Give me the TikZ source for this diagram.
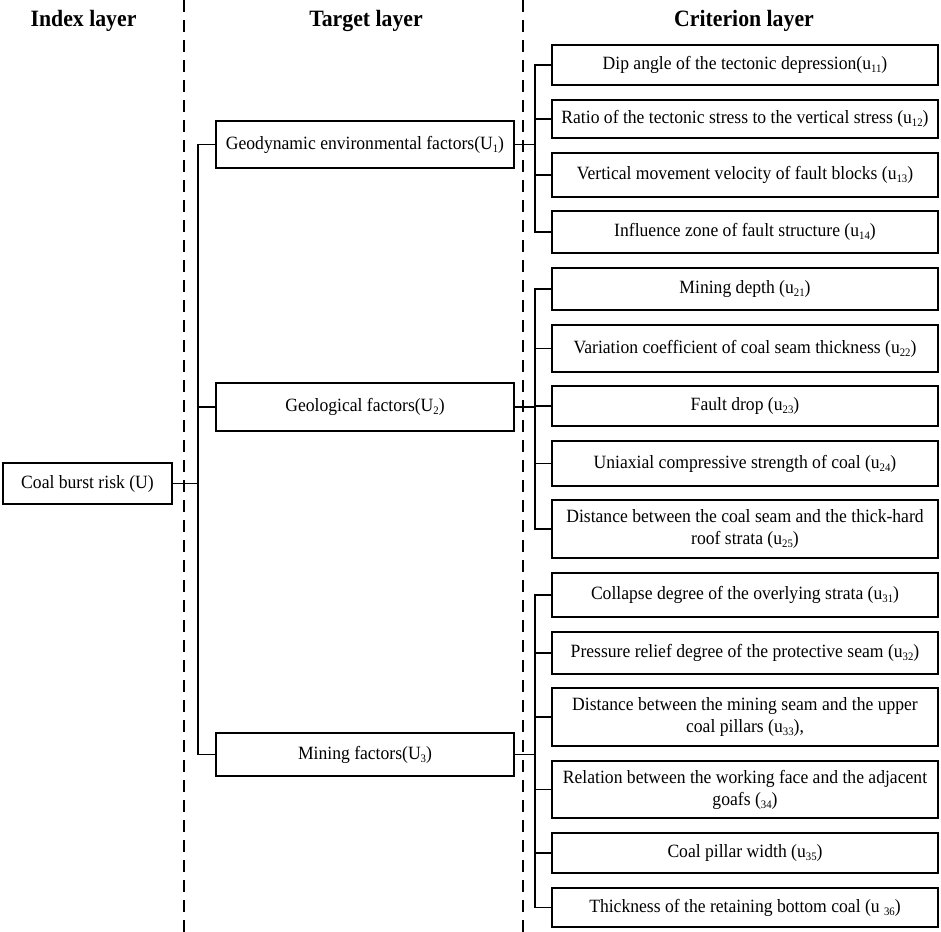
\documentclass[tikz,border=0pt]{standalone}
\usepackage{fontspec}
\setmainfont{Liberation Serif}[FakeStretch=0.94]
\newfontfamily\headfont{Liberation Serif}[FakeStretch=0.93]
\newcommand\lowsub[1]{\raisebox{-0.35ex}{\fontsize{11.5}{12}\selectfont #1}}
\begin{document}
\begin{tikzpicture}[x=1bp,y=-1bp,
  box/.style={draw, line width=1.7bp, inner sep=0pt, align=center,
    font=\fontsize{18.8}{22}\selectfont},
  rbox/.style={box, minimum width=386bp},
  mbox/.style={box, minimum width=298bp},
  head/.style={font=\headfont\fontsize{23.5}{26}\selectfont\bfseries, anchor=base, inner sep=0pt},
  conn/.style={line width=1.5bp},
  sep/.style={line width=1.4bp, dash pattern=on 12bp off 8bp}]
\useasboundingbox (0,0) rectangle (941,932);
% headers
\node[head] (h1) at (83.5,26) {Index layer};
\node[head] (h2) at (366,26) {Target layer};
\node[head] (h3) at (744,26) {Criterion layer};
% separators
\draw[sep] (184,0) -- (184,932);
\draw[sep] (523,0) -- (523,932);
% index
\node[box, minimum width=169bp, minimum height=41bp] (c) at (87.5,483.5) {Coal burst risk (U)};
% target
\node[mbox, minimum height=47bp] (m1) at (365,144.5) {Geodynamic environmental factors(U\lowsub{1})};
\node[mbox, minimum height=48bp] (m2) at (365,407) {Geological factors(U\lowsub{2})};
\node[mbox, minimum height=43bp] (m3) at (365,754.5) {Mining factors(U\lowsub{3})};
% criteria
\node[rbox, minimum height=40bp] (r11) at (745,65) {Dip angle of the tectonic depression(u\lowsub{11})};
\node[rbox, minimum height=38bp] (r12) at (745,119) {Ratio of the tectonic stress to the vertical stress (u\lowsub{12})};
\node[rbox, minimum height=44bp] (r13) at (745,175) {Vertical movement velocity of fault blocks (u\lowsub{13})};
\node[rbox, minimum height=42bp] (r14) at (745,232) {Influence zone of fault structure (u\lowsub{14})};
\node[rbox, minimum height=42bp] (r21) at (745,289) {Mining depth (u\lowsub{21})};
\node[rbox, minimum height=47bp] (r22) at (745,348.5) {Variation coefficient of coal seam thickness (u\lowsub{22})};
\node[rbox, minimum height=40bp] (r23) at (745,406) {Fault drop (u\lowsub{23})};
\node[rbox, minimum height=45bp] (r24) at (745,463.5) {Uniaxial compressive strength of coal (u\lowsub{24})};
\node[rbox, minimum height=58bp] (r25) at (745,529) {Distance between the coal seam and the thick-hard\\roof strata (u\lowsub{25})};
\node[rbox, minimum height=44bp] (r31) at (745,595) {Collapse degree of the overlying strata (u\lowsub{31})};
\node[rbox, minimum height=42bp] (r32) at (745,653) {Pressure relief degree of the protective seam (u\lowsub{32})};
\node[rbox, minimum height=58bp] (r33) at (745,717) {Distance between the mining seam and the upper\\coal pillars (u\lowsub{33}),};
\node[rbox, minimum height=57bp] (r34) at (745,789.5) {Relation between the working face and the adjacent\\goafs (\lowsub{34})};
\node[rbox, minimum height=40bp] (r35) at (745,853) {Coal pillar width (u\lowsub{35})};
\node[rbox, minimum height=39bp] (r36) at (745,907.5) {Thickness of the retaining bottom coal (u \lowsub{36})};
% spine positions
\coordinate (L) at (198,0);
\coordinate (R) at (535,0);
% left connectors
\draw[conn] (c.east) -- (c.east -| L);
\draw[conn] (m1.west) -- (m1.west -| L) -- (m3.west -| L) -- (m3.west);
\draw[conn] (m2.west) -- (m2.west -| L);
% right connectors group 1
\draw[conn] (m1.east) -- (m1.east -| R);
\draw[conn] (r11.west) -- (r11.west -| R) -- (r14.west -| R) -- (r14.west);
\foreach \n in {r12,r13} \draw[conn] (\n.west) -- (\n.west -| R);
% group 2
\draw[conn] (m2.east) -- (m2.east -| R);
\draw[conn] (r21.west) -- (r21.west -| R) -- (r25.west -| R) -- (r25.west);
\foreach \n in {r22,r23,r24} \draw[conn] (\n.west) -- (\n.west -| R);
% group 3
\draw[conn] (m3.east) -- (m3.east -| R);
\draw[conn] (r31.west) -- (r31.west -| R) -- (r36.west -| R) -- (r36.west);
\foreach \n in {r32,r33,r34,r35} \draw[conn] (\n.west) -- (\n.west -| R);
\end{tikzpicture}
\end{document}
